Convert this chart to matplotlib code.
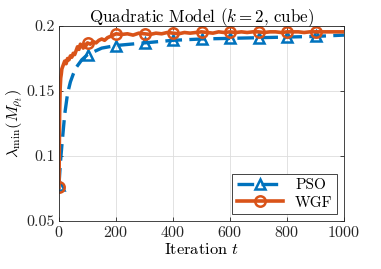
import numpy as np
import matplotlib
matplotlib.use("Agg")
import matplotlib.pyplot as plt

plt.rcParams["font.family"] = "serif"
plt.rcParams["font.serif"] = ["cmr10", "DejaVu Serif"]
plt.rcParams["mathtext.fontset"] = "cm"
plt.rcParams["axes.formatter.use_mathtext"] = True
plt.rcParams["axes.unicode_minus"] = False

# PSO curve (smooth)
t_pso = [0, 5, 10, 15, 20, 30, 40, 50, 60, 80, 100, 150, 200, 300, 400,
         500, 600, 700, 800, 900, 1000]
pso = [0.078, 0.095, 0.108, 0.120, 0.132, 0.148, 0.157, 0.163, 0.168, 0.174,
       0.178, 0.183, 0.185, 0.187, 0.189, 0.190, 0.1905, 0.191, 0.1915,
       0.192, 0.193]

# WGF curve (noisy)
t_wgf = [0, 2, 4, 6, 8, 10, 15, 20, 25, 30, 35, 40, 45, 50, 55, 60, 65, 70,
         75, 80, 85, 90, 95, 100, 110, 120, 130, 140, 150, 160, 170, 180, 190,
         200, 220, 240, 260, 280, 300, 320, 340, 360, 380, 400, 420, 440, 460,
         480, 500, 520, 540, 560, 580, 600, 620, 640, 660, 680, 700, 720, 740,
         760, 780, 800, 820, 840, 860, 880, 900, 920, 940, 960, 980, 1000]
wgf = [0.076, 0.130, 0.152, 0.160, 0.163, 0.167, 0.170, 0.173, 0.171, 0.175,
       0.174, 0.177, 0.176, 0.179, 0.178, 0.181, 0.184, 0.182, 0.186, 0.185,
       0.183, 0.186, 0.185, 0.187, 0.186, 0.188, 0.187, 0.189, 0.190, 0.189,
       0.191, 0.192, 0.193, 0.194, 0.1935, 0.194, 0.193, 0.1945, 0.194,
       0.1935, 0.1945, 0.194, 0.195, 0.1945, 0.194, 0.195, 0.1945, 0.195,
       0.1955, 0.195, 0.1945, 0.1955, 0.195, 0.1955, 0.195, 0.1955, 0.195,
       0.1955, 0.1955, 0.195, 0.1955, 0.1955, 0.195, 0.1955, 0.1955, 0.1955,
       0.195, 0.1955, 0.1955, 0.1955, 0.1955, 0.1955, 0.1955, 0.1955]

blue = "#0072BD"
orange = "#D95319"

fig = plt.figure(figsize=(3.81, 2.69), dpi=100)
ax = fig.add_axes([59 / 381, 1 - 221 / 269, 285 / 381, 195 / 269])

mk_pso = [i for i, t in enumerate(t_pso) if t % 100 == 0 and t < 1000]
mk_wgf = [i for i, t in enumerate(t_wgf) if t % 100 == 0 and t < 1000]

ax.plot(t_pso, pso, "--", color=blue, lw=2.4, dashes=(5, 2.2),
        marker="^", markevery=mk_pso, ms=7.5, mfc="none", mew=1.8, label="PSO")
ax.plot(t_wgf, wgf, "-", color=orange, lw=2.6,
        marker="o", markevery=mk_wgf, ms=7.5, mfc="none", mew=1.8, label="WGF")

ax.set_xlim(0, 1000)
ax.set_ylim(0.05, 0.2)
ax.set_xticks([0, 200, 400, 600, 800, 1000])
ax.set_yticks([0.05, 0.1, 0.15, 0.2])
ax.set_yticklabels(["0.05", "0.1", "0.15", "0.2"])
ax.tick_params(direction="in", top=True, right=True, labelsize=11.5,
               length=3, width=0.6, colors="#262626", pad=3)
ax.grid(True, color="#dddddd", lw=0.6)
for s in ax.spines.values():
    s.set_color("#262626")
    s.set_linewidth(0.6)

ax.set_title(r"Quadratic Model ($k=2$, cube)", fontsize=12.2, pad=3)
ax.set_xlabel(r"Iteration $t$", fontsize=11.8, labelpad=1)
ax.set_ylabel(r"$\lambda_{\min}(M_{\rho_t})$", fontsize=11.8, labelpad=1)

leg = ax.legend(loc="lower right", fontsize=11, fancybox=False,
                edgecolor="#262626", framealpha=1, handlelength=3,
                borderaxespad=0.45, borderpad=0.3, labelspacing=0.25)
leg.get_frame().set_linewidth(0.6)

fig.savefig("out.png", dpi=100)
